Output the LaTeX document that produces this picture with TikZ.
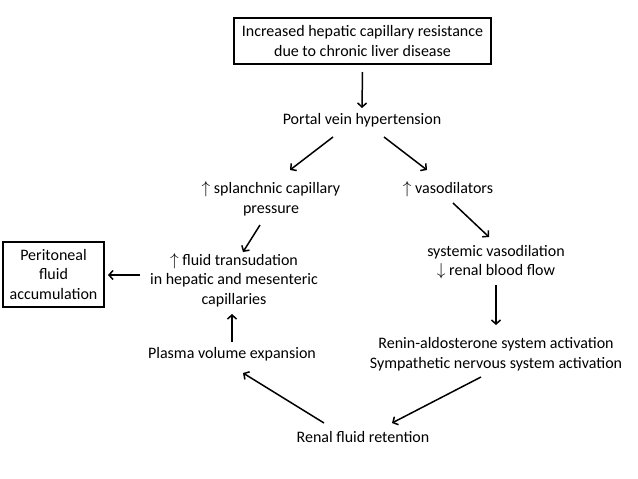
\documentclass[tikz,border=0pt]{standalone}
\usepackage{fontspec}
\setmainfont{Carlito}
\usetikzlibrary{arrows.meta}
\newcommand{\incr}{$\uparrow$}
\newcommand{\decr}{$\downarrow$}

\begin{document}
\begin{tikzpicture}[x=1pt, y=-1pt,
    txt/.style={align=center, inner sep=1pt, font=\fontsize{16}{19.6}\selectfont},
    framed/.style={txt, draw, line width=1.5pt, inner sep=0pt},
    flow/.style={-{Straight Barb[length=4pt, width=9pt]}, line width=1.5pt}]
    % canvas in pixel units, y pointing down
    \useasboundingbox (0,0) rectangle (638,479);

    % boxes
    \node[framed, minimum width=257pt, minimum height=46pt] (liver) at (362.5,41)
        {Increased hepatic capillary resistance\\due to chronic liver disease};
    \node[framed, minimum width=101pt, minimum height=65pt] (perit) at (53.5,274.5)
        {Peritoneal\\fluid\\accumulation};

    % steps
    \node[txt] (portal) at (362,120) {Portal vein hypertension};
    \node[txt] (splanch) at (271,199) {\incr{} splanchnic capillary\\pressure};
    \node[txt] (vasodil) at (448,189) {\incr{} vasodilators};
    \node[txt] (sysvaso) at (496,262) {systemic vasodilation\\\decr{} renal blood flow};
    \node[txt] (renin) at (496,354) {Renin-aldosterone system activation\\Sympathetic nervous system activation};
    \node[txt] (renal) at (363,437) {Renal fluid retention};
    \node[txt] (plasma) at (232,354) {Plasma volume expansion};
    \node[txt] (transud) at (234,280) {\incr{} fluid transudation\\in hepatic and mesenteric\\capillaries};

    % connectors
    \draw[flow] ([shift={(0,31)}]liver.center) -- ([shift={(0,-12)}]portal.center);
    \draw[flow] ([shift={(-29,17)}]portal.center) -- ([shift={(19,-29)}]splanch.center);
    \draw[flow] ([shift={(22,17)}]portal.center) -- ([shift={(-21,-19)}]vasodil.center);
    \draw[flow] ([shift={(5,14)}]vasodil.center) -- ([shift={(-7,-25)}]sysvaso.center);
    \draw[flow] ([shift={(0,23)}]sysvaso.center) -- ([shift={(0,-29)}]renin.center);
    \draw[flow] ([shift={(-15,23)}]renin.center) -- ([shift={(29,-14)}]renal.center);
    \draw[flow] ([shift={(-39,-14)}]renal.center) -- ([shift={(11,19)}]plasma.center);
    \draw[flow] ([shift={(0,-12)}]plasma.center) -- ([shift={(-2,34)}]transud.center);
    \draw[flow] ([shift={(-11,26)}]splanch.center) -- ([shift={(9,-28)}]transud.center);
    \draw[flow] ([shift={(-94,-5)}]transud.center) -- ([shift={(54.5,0.5)}]perit.center);
\end{tikzpicture}
\end{document}
